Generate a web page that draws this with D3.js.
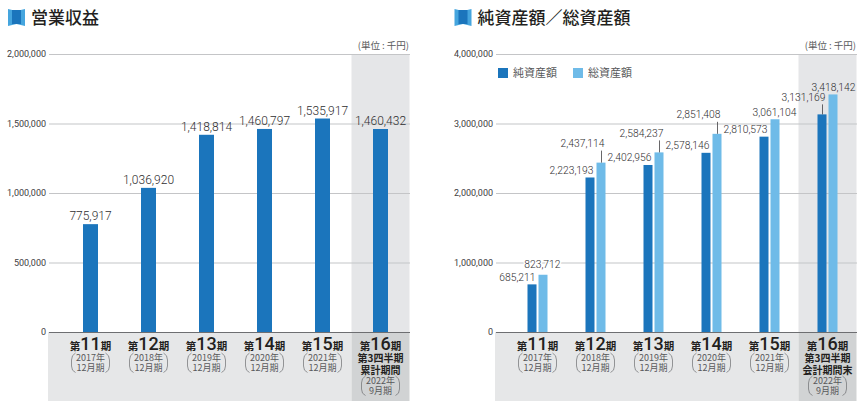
<!DOCTYPE html>
<html>
<head>
<meta charset="utf-8">
<script src="https://cdn.jsdelivr.net/npm/d3@7"></script>
<style>
  html, body { margin: 0; padding: 0; background: #fff; }
  svg { display: block; }
  text { font-family: "Noto Sans CJK JP", "Noto Sans", sans-serif; }
  .num { font-family: Roboto, "Liberation Sans", sans-serif; font-weight: 300; }
  .tickNum { font-family: Roboto, "Liberation Sans", sans-serif; font-weight: 400; }
</style>
</head>
<body>
<svg id="chart" width="868" height="414"></svg>
<script>
const periods = ["11", "12", "13", "14", "15", "16"];
const years = ["2017年", "2018年", "2019年", "2020年", "2021年", "2022年"];
const months = ["12月期", "12月期", "12月期", "12月期", "12月期", "9月期"];
const revenue = [775917, 1036920, 1418814, 1460797, 1535917, 1460432];
const netAssets = [685211, 2223193, 2402956, 2578146, 2810573, 3131169];
const totalAssets = [823712, 2437114, 2584237, 2851408, 3061104, 3418142];
const revenueTicks = [0, 500000, 1000000, 1500000, 2000000];
const assetTicks = [0, 1000000, 2000000, 3000000, 4000000];
const lastLinesLeft = ["第3四半期", "累計期間"];
const lastLinesRight = ["第3四半期", "会計期間末"];
const legendNames = ["純資産額", "総資産額"];

const dark = "#1b75bc", light = "#6fbbe8";
const fmt = d3.format(",");
const svg = d3.select("#chart");

// one panel: grid, grey bands, axis and category labels
function panel(left, title, titleX, ticks, yMax, lastLines) {
  const x = d3.scaleBand().domain(d3.range(6)).range([left + 12.5, left + 360.5]);
  const y = d3.scaleLinear().domain([0, yMax]).range([332, 54]);
  const g = svg.append("g");

  g.append("rect").attr("x", left - 1).attr("y", 332).attr("width", x(5) - left + 1).attr("height", 69).attr("fill", "#e6e7e8");
  g.append("rect").attr("x", x(5)).attr("y", 54).attr("width", x.bandwidth()).attr("height", 278).attr("fill", "#e5e6e8");
  g.append("rect").attr("x", x(5)).attr("y", 332).attr("width", x.bandwidth()).attr("height", 69).attr("fill", "#d1d3d4");

  const axis = g.append("g")
    .attr("transform", `translate(${left},0)`)
    .call(d3.axisLeft(y).tickValues(ticks).tickSize(-361).tickPadding(3).tickFormat(fmt));
  axis.select(".domain").remove();
  axis.selectAll("line").attr("stroke", "#c4c5c7").attr("stroke-width", 1.2);
  axis.selectAll("text").attr("class", "tickNum").attr("fill", "#414042").attr("font-size", 9);
  axis.selectAll("g.tick").filter(d => d === 0).select("line").attr("stroke", "#6d6e71");

  // title with the small book icon
  const ix = titleX - 23;
  g.append("path").attr("d", `M${ix},9L${ix + 8.5},11L${ix + 17},9V26L${ix + 8.5},24L${ix},26Z`).attr("fill", "#45a5de");
  g.append("rect").attr("x", ix + 4).attr("y", 10).attr("width", 9).attr("height", 14).attr("fill", dark);
  g.append("text").attr("x", titleX).attr("y", 24).attr("font-size", 17).attr("font-weight", 500).attr("fill", "#231f20").text(title);

  g.append("text").attr("x", left + 360).attr("y", 49).attr("text-anchor", "end").attr("font-size", 9.5).attr("fill", "#58595b").text("(単位 : 千円)");

  periods.forEach((p, i) => {
    const cx = x(i) + x.bandwidth() / 2;
    const t = g.append("text").attr("x", cx).attr("y", 350).attr("text-anchor", "middle").attr("fill", "#231f20");
    t.append("tspan").attr("font-size", 10.5).attr("font-weight", 700).text("第");
    t.append("tspan").style("font-family", "Roboto, sans-serif").attr("font-size", 18).attr("font-weight", 500).text(p);
    t.append("tspan").attr("font-size", 10.5).attr("font-weight", 700).text("期");

    let yy = 361;
    if (i === 5) {
      lastLines.forEach((l, k) => {
        g.append("text").attr("x", cx).attr("y", 361.5 + k * 12).attr("text-anchor", "middle")
          .attr("font-size", 10).attr("font-weight", 700).attr("fill", "#231f20").text(l);
      });
      yy = 384;
    }
    g.append("text").attr("x", cx).attr("y", yy).attr("text-anchor", "middle").attr("font-size", 9).attr("fill", "#58595b").text(years[i]);
    g.append("text").attr("x", cx).attr("y", yy + 10.3).attr("text-anchor", "middle").attr("font-size", 9).attr("fill", "#58595b").text(months[i]);
    // tall parentheses round the period note
    [-1, 1].forEach(s => {
      g.append("path")
        .attr("d", `M${cx + s * 15},${yy - 8} Q${cx + s * 19},${yy - 6} ${cx + s * 19},${yy - 1} L${cx + s * 19},${yy + 5} Q${cx + s * 19},${yy + 10} ${cx + s * 15},${yy + 11.5}`)
        .attr("fill", "none").attr("stroke", "#6d6e71").attr("stroke-width", 0.7);
    });
  });
  return { x, y, g };
}

// left panel
{
  const { x, y, g } = panel(49, "営業収益", 31, revenueTicks, 2000000, lastLinesLeft);
  g.selectAll("rect.bar").data(revenue).join("rect").attr("class", "bar")
    .attr("x", (d, i) => x(i) + x.bandwidth() / 2 - 7.5)
    .attr("y", d => y(d)).attr("width", 15).attr("height", d => 332 - y(d)).attr("fill", dark);
  g.selectAll("text.val").data(revenue).join("text").attr("class", "val num")
    .attr("x", (d, i) => x(i) + x.bandwidth() / 2).attr("y", d => y(d) - 4)
    .attr("text-anchor", "middle").attr("font-size", 12).attr("fill", "#2f2e30").text(fmt);
}

// right panel
{
  const { x, y, g } = panel(496, "純資産額／総資産額", 477.5, assetTicks, 4000000, lastLinesRight);
  const cx = i => x(i) + x.bandwidth() / 2;
  // how far each label is lifted off its bar, and where its right edge sits
  const netLift = [0, 0, 0, 0, 0, 10];
  const totalLift = [3.5, 12, 12, 12, 0, 0];
  const totalEnd = [23, 9, 10, 9, 27, 28];

  g.selectAll("rect.net").data(netAssets).join("rect").attr("class", "net")
    .attr("x", (d, i) => cx(i) - 10).attr("y", d => y(d)).attr("width", 9).attr("height", d => 332 - y(d)).attr("fill", dark);
  g.selectAll("rect.total").data(totalAssets).join("rect").attr("class", "total")
    .attr("x", (d, i) => cx(i) + 1).attr("y", d => y(d)).attr("width", 9).attr("height", d => 332 - y(d)).attr("fill", light);

  // leader lines where the label sits above its bar
  netAssets.forEach((d, i) => {
    if (netLift[i]) g.append("line").attr("x1", cx(i) - 5).attr("x2", cx(i) - 5).attr("y1", y(d)).attr("y2", y(d) - netLift[i]).attr("stroke", "#414042").attr("stroke-width", 0.8);
  });
  totalAssets.forEach((d, i) => {
    if (totalLift[i] > 5) g.append("line").attr("x1", cx(i) + 6).attr("x2", cx(i) + 6).attr("y1", y(d)).attr("y2", y(d) - totalLift[i]).attr("stroke", "#414042").attr("stroke-width", 0.8);
  });

  const lab = (d, xx, yy) => g.append("text").attr("class", "num").attr("x", xx).attr("y", yy).attr("text-anchor", "end")
    .attr("font-size", 10.3).attr("fill", "#2f2e30").text(fmt(d));
  netAssets.forEach((d, i) => lab(d, cx(i) - 2, y(d) - 3.5 - netLift[i]));
  totalAssets.forEach((d, i) => {
    const t = lab(d, cx(i) + totalEnd[i], y(d) - 3.5 - totalLift[i]);
    // first label breaks the grid line behind it
    if (i === 0) t.attr("stroke", "#fff").attr("stroke-width", 3).style("paint-order", "stroke");
  });

  // legend
  legendNames.forEach((n, i) => {
    const lx = 498 + i * 75;
    g.append("rect").attr("x", lx).attr("y", 68).attr("width", 10).attr("height", 10).attr("fill", i ? light : dark);
    g.append("text").attr("x", lx + 15).attr("y", 77).attr("font-size", 11).attr("fill", "#58595b").text(n);
  });
}
</script>
</body>
</html>
